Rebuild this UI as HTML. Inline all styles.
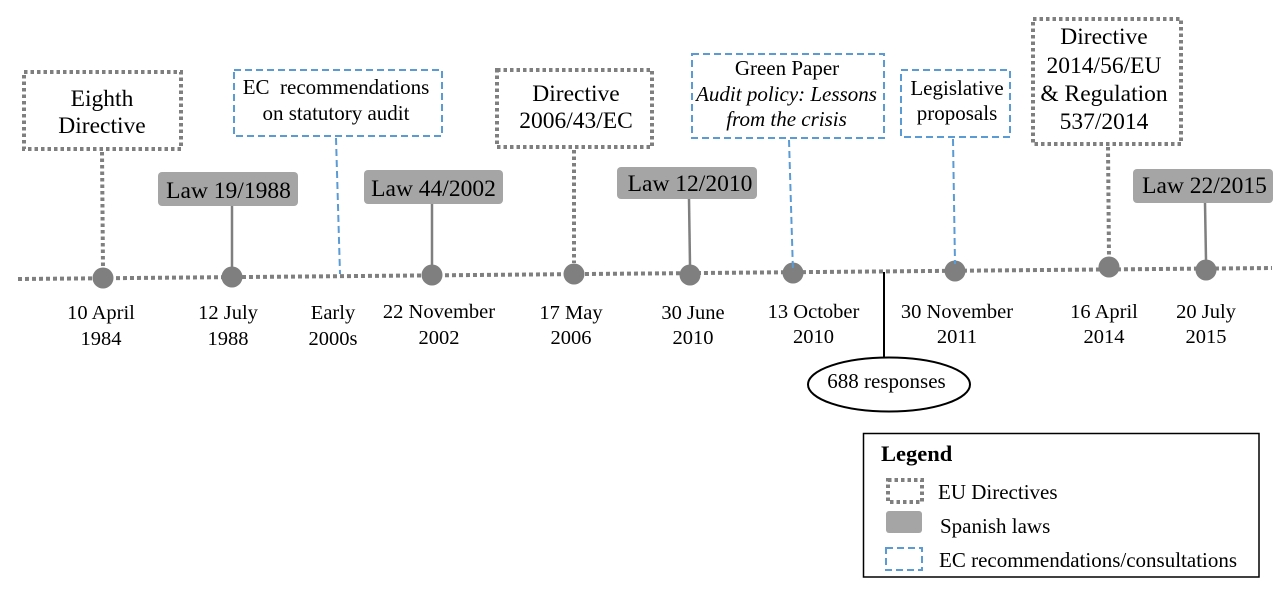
<!DOCTYPE html>
<html><head><meta charset="utf-8"><style>
html,body{margin:0;padding:0;background:#fff;}
svg{display:block;}
text{font-family:"Liberation Serif","Times New Roman",serif;fill:#000;}
</style></head><body>
<svg width="1282" height="591" viewBox="0 0 1282 591" xmlns="http://www.w3.org/2000/svg">
<rect width="1282" height="591" fill="#fff"/>
<!-- timeline -->
<line x1="18" y1="279" x2="1272" y2="268" stroke="#7f7f7f" stroke-width="4" stroke-dasharray="4 3"/>

<!-- connectors -->
<g stroke="#7f7f7f" stroke-width="4" stroke-dasharray="3.5 3" fill="none">
<line x1="102" y1="152" x2="103" y2="268"/>
<line x1="574" y1="150" x2="574" y2="263"/>
<line x1="1108" y1="147" x2="1109" y2="257"/>
</g>
<g stroke="#7f7f7f" stroke-width="2.5" fill="none">
<line x1="232" y1="206" x2="232" y2="267"/>
<line x1="432" y1="204" x2="432" y2="265"/>
<line x1="689" y1="199" x2="690" y2="265"/>
<line x1="1205" y1="203" x2="1206" y2="260"/>
</g>
<line x1="884" y1="272" x2="884" y2="357" stroke="#000" stroke-width="2"/>

<!-- circles -->
<g fill="#7f7f7f">
<circle cx="103" cy="278" r="10.5"/>
<circle cx="232" cy="277" r="10.5"/>
<circle cx="432" cy="275" r="10.5"/>
<circle cx="574" cy="274" r="10.5"/>
<circle cx="690" cy="275" r="10.5"/>
<circle cx="793" cy="273" r="10.5"/>
<circle cx="955" cy="271" r="10.5"/>
<circle cx="1109" cy="267" r="10.5"/>
<circle cx="1206" cy="270" r="10.5"/>
</g>

<g stroke="#5b9bd5" stroke-width="2" stroke-dasharray="7 4" fill="none">
<line x1="336" y1="138" x2="340" y2="274"/>
<line x1="789" y1="140" x2="793" y2="272"/>
<line x1="953" y1="139" x2="955" y2="264"/>
</g>

<!-- EU directive boxes -->
<g stroke="#7f7f7f" stroke-width="4" stroke-dasharray="3.5 3" fill="#fff">
<rect x="24" y="72" width="157" height="77"/>
<rect x="497" y="70" width="155" height="77"/>
<rect x="1033" y="19" width="148" height="125"/>
</g>
<!-- EC boxes -->
<g stroke="#5b9bd5" stroke-width="2" stroke-dasharray="7 4" fill="#fff">
<rect x="234" y="70" width="208" height="66"/>
<rect x="692" y="54" width="192" height="84"/>
<rect x="901" y="70" width="109" height="67"/>
</g>
<!-- Spanish laws -->
<g fill="#a5a5a5">
<rect x="158" y="172" width="140" height="34" rx="4"/>
<rect x="364" y="170" width="139" height="34" rx="4"/>
<rect x="617" y="167" width="140" height="32" rx="4"/>
<rect x="1133" y="169" width="140" height="34" rx="4"/>
</g>

<!-- box text -->
<g font-size="23.5" text-anchor="middle">
<text x="102" y="106">Eighth</text>
<text x="102" y="133">Directive</text>
<text x="576" y="101">Directive</text>
<text x="576" y="128">2006/43/EC</text>
<text x="1104" y="44">Directive</text>
<text x="1104" y="73">2014/56/EU</text>
<text x="1104" y="101">&amp; Regulation</text>
<text x="1104" y="129">537/2014</text>
<text x="228.5" y="198">Law 19/1988</text>
<text x="433.5" y="196">Law 44/2002</text>
<text x="690" y="191">Law 12/2010</text>
<text x="1204.5" y="193">Law 22/2015</text>
</g>
<g font-size="21" text-anchor="middle">
<text x="336" y="94" xml:space="preserve">EC  recommendations</text>
<text x="336" y="120">on statutory audit</text>
<text x="787" y="75">Green Paper</text>
<text x="786.5" y="101" font-style="italic">Audit policy: Lessons</text>
<text x="786.5" y="126" font-style="italic">from the crisis</text>
<text x="957" y="95">Legislative</text>
<text x="957" y="120">proposals</text>
</g>

<!-- dates -->
<g font-size="20.5" text-anchor="middle">
<text x="101" y="319">10 April</text><text x="101" y="345">1984</text>
<text x="228" y="319">12 July</text><text x="228" y="345">1988</text>
<text x="333" y="319">Early</text><text x="333" y="345">2000s</text>
<text x="439" y="318">22 November</text><text x="439" y="344">2002</text>
<text x="571" y="319">17 May</text><text x="571" y="344">2006</text>
<text x="693" y="319">30 June</text><text x="693" y="344">2010</text>
<text x="813.5" y="318">13 October</text><text x="813.5" y="343">2010</text>
<text x="957" y="318">30 November</text><text x="957" y="343">2011</text>
<text x="1104" y="318">16 April</text><text x="1104" y="343">2014</text>
<text x="1206" y="318">20 July</text><text x="1206" y="343">2015</text>
</g>

<!-- ellipse -->
<ellipse cx="889" cy="384.5" rx="81" ry="27" fill="#fff" stroke="#000" stroke-width="2"/>
<text x="886.5" y="388" font-size="21" text-anchor="middle">688 responses</text>

<!-- legend -->
<rect x="863.5" y="433.5" width="395.5" height="143.5" fill="#fff" stroke="#000" stroke-width="1.5"/>
<text x="881" y="461" font-size="22.5" font-weight="bold">Legend</text>
<rect x="888" y="480" width="34" height="22" fill="none" stroke="#7f7f7f" stroke-width="4" stroke-dasharray="3.5 3"/>
<rect x="886" y="511" width="36" height="22" rx="3" fill="#a5a5a5"/>
<rect x="886" y="548" width="36" height="22" fill="none" stroke="#5b9bd5" stroke-width="2" stroke-dasharray="7 4"/>
<g font-size="21">
<text x="938" y="499">EU Directives</text>
<text x="940" y="533">Spanish laws</text>
<text x="939" y="567">EC recommendations/consultations</text>
</g>
</svg>
</body></html>
